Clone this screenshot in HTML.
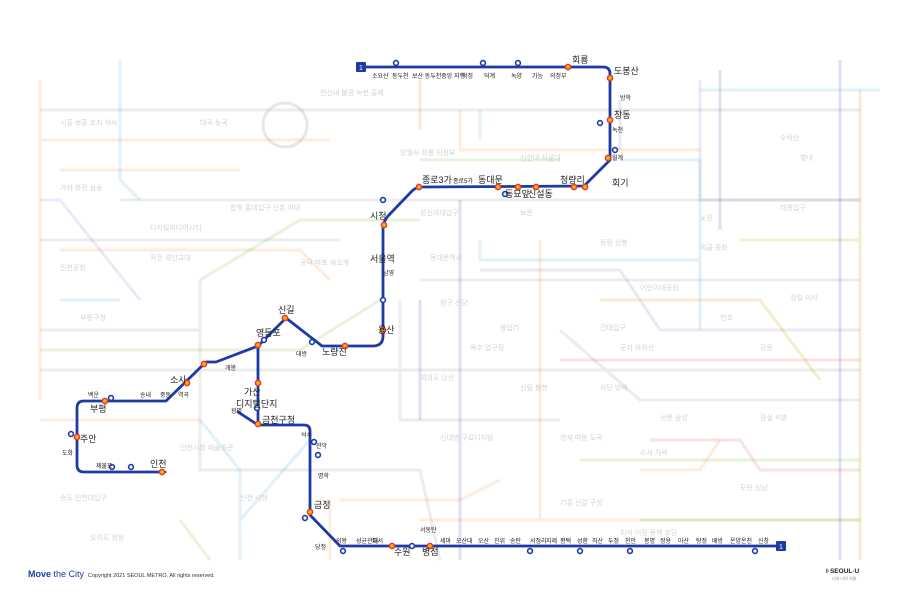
<!DOCTYPE html>
<html><head><meta charset="utf-8"><style>
html,body{margin:0;padding:0;background:#fff;}
svg{display:block;font-family:"Liberation Sans","Noto Sans CJK KR",sans-serif;}
.bg{fill:none;stroke-width:3;opacity:.2;stroke-linejoin:round}
.ft{fill:#bbb;font-size:7px;opacity:.65}
.m{fill:none;stroke:#1d3aa5;stroke-width:2.8;stroke-linejoin:round;stroke-linecap:round}
.st{font-size:6px;fill:#222}
.big{font-size:9px;fill:#222}
.tr{fill:#fff;stroke:#1d3aa5;stroke-width:1.6}
.xf{fill:#f4b400;stroke:#e53935;stroke-width:1.5}
</style></head><body>
<svg width="918" height="605" viewBox="0 0 918 605">
<rect width="918" height="605" fill="#fff"/>
<g>
<path class="bg" stroke="#f5a25d" d="M40 80 L40 400 M40 140 L330 140 M460 110 L460 150 L700 150 M540 240 L540 520 M340 500 L460 500 L500 480 M330 500 L330 560 M420 520 L860 520 M640 470 L700 470 L720 440 M60 250 L300 250 L330 280 M40 420 L200 420 M60 170 L240 170"/>
<path class="bg" stroke="#66b8e8" d="M480 240 L480 260 L700 260 L700 200 M120 60 L120 180 L140 200 M60 300 L120 300 M700 90 L880 90 M620 160 L700 160 L700 330 M310 440 L240 520 M200 420 L240 470 L240 560 M480 110 L480 140"/>
<path class="bg" stroke="#8bc34a" d="M200 280 L300 220 L420 220 M640 520 L860 520 M580 460 L860 460 M40 350 L300 350 L380 300 M180 520 L210 560 M420 160 L560 160"/>
<path class="bg" stroke="#a48ad6" d="M40 200 L60 200 L140 300 M480 270 L620 270 L660 330 L860 330 M620 150 L620 100 M700 80 L700 200 L860 200"/>
<path class="bg" stroke="#9e9e9e" d="M40 110 L860 110 M40 370 L860 370 M120 200 L860 200 M200 280 L200 470 L420 470 L440 560 M400 300 L400 420 L560 420 M560 330 L640 400 L860 400 M40 240 L340 240 M420 280 L860 280 M40 330 L200 330"/>
<path class="bg" stroke="#e57373" d="M650 440 L740 440 L760 470 L860 470 M700 360 L860 360 M560 360 L700 360"/>
<path class="bg" stroke="#d4a017" d="M420 80 L420 130 M740 240 L860 240 M860 90 L860 560 M600 300 L760 300 L820 380"/>
<path class="bg" stroke="#5c6bc0" d="M720 70 L720 230 M840 60 L840 560 M420 300 L420 420 M460 200 L460 560"/>
<circle cx="285" cy="125" r="22" fill="none" stroke="#9e9e9e" stroke-width="3" opacity=".25"/>
</g>
<g class="ft">
<text x="60" y="125">시흥 보훈 호지 식사</text><text x="200" y="125">대곡 능곡</text><text x="320" y="95">연신내 불광 녹번 홍제</text>
<text x="400" y="155">망월사 회룡 의정부</text><text x="520" y="160">신한대 서울대</text>
<text x="60" y="190">가좌 화정 삼송</text><text x="150" y="230">디지털미디어시티</text><text x="230" y="210">합정 홍대입구 신촌 이대</text>
<text x="420" y="215">성신여대입구</text><text x="520" y="215">보문</text><text x="600" y="245">중랑 상봉</text>
<text x="700" y="220">노원</text><text x="780" y="140">수락산</text><text x="780" y="210">태릉입구</text>
<text x="60" y="270">인천공항</text><text x="80" y="320">부평구청</text><text x="150" y="260">작전 경인교대</text>
<text x="430" y="260">동대문역사</text><text x="440" y="305">청구 신당</text><text x="500" y="330">왕십리</text>
<text x="600" y="330">건대입구</text><text x="620" y="350">군자 아차산</text><text x="720" y="320">천호</text><text x="760" y="350">강동</text>
<text x="420" y="380">여의도 당산</text><text x="520" y="390">신림 봉천</text><text x="600" y="390">사당 방배</text>
<text x="660" y="420">선릉 삼성</text><text x="760" y="420">잠실 석촌</text><text x="640" y="455">수서 가락</text>
<text x="180" y="450">인천시청 예술회관</text><text x="240" y="500">신천 시청</text><text x="560" y="505">기흥 신갈 구성</text>
<text x="620" y="535">지석 어정 동백 초당</text><text x="740" y="490">모란 성남</text><text x="790" y="300">강일 미사</text>
<text x="800" y="160">별내</text><text x="60" y="500">송도 인천대입구</text><text x="90" y="540">오이도 정왕</text>
<text x="440" y="440">신대방 구로디지털</text><text x="560" y="440">양재 매봉 도곡</text><text x="700" y="250">먹골 중화</text>
<text x="300" y="265">공덕 마포 애오개</text><text x="470" y="350">옥수 압구정</text><text x="640" y="290">어린이대공원</text>
</g>
<path class="m" d="M360 67 L603 67 Q610 67 610 74 L610 160 L584 186 L422 187 Q416 187 412 191 L388 216 Q383 222 383 228 L383 336 Q383 346 373 346 L322 346 L286 318 L258 346 L216 362 L206 362 L166 401 L84 401 Q77 401 77 408 L77 465 Q77 472 84 472 L165 472"/>
<path class="m" d="M258 346 L258 425 L304 425 Q310 425 310 431 L310 515 L340 546 L780 546"/>
<path class="m" d="M258 425 L238 412"/>
<rect x="356" y="62" width="10" height="10" rx="1" fill="#1d3aa5"/><text x="361" y="70" fill="#fff" font-size="7" text-anchor="middle">1</text>
<rect x="776" y="541" width="10" height="10" rx="1" fill="#1d3aa5"/><text x="781" y="549" fill="#fff" font-size="7" text-anchor="middle">1</text>
<g>
<circle class="xf" cx="568" cy="67" r="2.6"/><circle class="xf" cx="610" cy="78" r="2.6"/><circle class="xf" cx="610" cy="120" r="2.6"/>
<circle class="xf" cx="608" cy="158" r="2.6"/><circle class="xf" cx="585" cy="187" r="2.6"/><circle class="xf" cx="574" cy="187" r="2.6"/>
<circle class="xf" cx="536" cy="187" r="2.6"/><circle class="xf" cx="518" cy="187" r="2.6"/><circle class="xf" cx="498" cy="187" r="2.6"/>
<circle class="xf" cx="419" cy="187" r="2.6"/><circle class="xf" cx="384" cy="225" r="2.6"/><circle class="xf" cx="383" cy="330" r="2.6"/>
<circle class="xf" cx="345" cy="346" r="2.6"/><circle class="xf" cx="285" cy="318" r="2.6"/><circle class="xf" cx="258" cy="345" r="2.6"/>
<circle class="xf" cx="204" cy="364" r="2.6"/><circle class="xf" cx="187" cy="383" r="2.6"/><circle class="xf" cx="105" cy="401" r="2.6"/>
<circle class="xf" cx="77" cy="437" r="2.6"/><circle class="xf" cx="162" cy="472" r="2.6"/><circle class="xf" cx="258" cy="383" r="2.6"/>
<circle class="xf" cx="258" cy="424" r="2.6"/><circle class="xf" cx="310" cy="512" r="2.6"/><circle class="xf" cx="392" cy="546" r="2.6"/><circle class="xf" cx="430" cy="546" r="2.6"/>
</g>
<g>
<circle class="tr" cx="396" cy="63" r="2.4"/><circle class="tr" cx="483" cy="63" r="2.4"/><circle class="tr" cx="518" cy="63" r="2.4"/>
<circle class="tr" cx="600" cy="123" r="2.4"/><circle class="tr" cx="615" cy="150" r="2.4"/><circle class="tr" cx="505" cy="194" r="2.4"/>
<circle class="tr" cx="383" cy="200" r="2.4"/><circle class="tr" cx="383" cy="300" r="2.4"/><circle class="tr" cx="312" cy="342" r="2.4"/>
<circle class="tr" cx="264" cy="340" r="2.4"/><circle class="tr" cx="257" cy="408" r="2.4"/><circle class="tr" cx="314" cy="442" r="2.4"/>
<circle class="tr" cx="318" cy="455" r="2.4"/><circle class="tr" cx="305" cy="518" r="2.4"/><circle class="tr" cx="343" cy="551" r="2.4"/>
<circle class="tr" cx="412" cy="546" r="2.4"/><circle class="tr" cx="530" cy="551" r="2.4"/><circle class="tr" cx="580" cy="551" r="2.4"/>
<circle class="tr" cx="630" cy="551" r="2.4"/><circle class="tr" cx="755" cy="551" r="2.4"/><circle class="tr" cx="112" cy="467" r="2.4"/>
<circle class="tr" cx="131" cy="467" r="2.4"/><circle class="tr" cx="71" cy="434" r="2.4"/><circle class="tr" cx="111" cy="398" r="2.4"/>
</g>
<g class="st">
<text x="372" y="78">소요산</text><text x="392" y="78">동두천</text><text x="412" y="78">보산 동두천중앙 지행</text>
<text x="462" y="78">덕정</text><text x="484" y="78">덕계</text><text x="511" y="78">녹양</text><text x="532" y="78">가능</text><text x="550" y="78">의정부</text>
<text x="620" y="100">방학</text><text x="612" y="132">녹천</text><text x="612" y="160">월계</text>
<text x="453" y="183">종로5가</text><text x="383" y="275">남영</text><text x="296" y="356">대방</text>
<text x="140" y="397">송내</text><text x="160" y="397">중동</text><text x="178" y="397">역곡</text><text x="88" y="397">백운</text>
<text x="62" y="455">도화</text><text x="96" y="468">제물포</text><text x="231" y="413">광명</text><text x="225" y="370">개봉</text>
<text x="301" y="437">석수</text><text x="316" y="448">관악</text><text x="318" y="478">명학</text><text x="315" y="549">당정</text>
<text x="336" y="543">의왕</text><text x="356" y="543">성균관대</text><text x="372" y="543">화서</text><text x="440" y="543">세마</text><text x="456" y="543">오산대</text><text x="478" y="543">오산</text>
<text x="494" y="543">진위</text><text x="510" y="543">송탄</text><text x="530" y="543">서정리</text><text x="546" y="543">지제</text><text x="560" y="543">평택</text><text x="577" y="543">성환</text>
<text x="592" y="543">직산</text><text x="608" y="543">두정</text><text x="625" y="543">천안</text><text x="644" y="543">봉명</text><text x="660" y="543">쌍용</text><text x="678" y="543">아산</text>
<text x="696" y="543">탕정</text><text x="712" y="543">배방</text><text x="730" y="543">온양온천</text><text x="758" y="543">신창</text><text x="420" y="532">서동탄</text>
</g>
<g class="big">
<text x="572" y="63">회룡</text><text x="614" y="74">도봉산</text><text x="614" y="118">창동</text><text x="612" y="186">회기</text>
<text x="478" y="183">동대문</text><text x="505" y="197">동묘앞</text><text x="528" y="197">신설동</text><text x="560" y="183">청량리</text>
<text x="422" y="183">종로3가</text><text x="370" y="219">시청</text><text x="370" y="262">서울역</text><text x="378" y="333">용산</text>
<text x="322" y="355">노량진</text><text x="278" y="313">신길</text><text x="256" y="336">영등포</text><text x="170" y="383">소사</text>
<text x="90" y="412">부평</text><text x="80" y="442">주안</text><text x="150" y="467">인천</text><text x="244" y="395">가산</text>
<text x="236" y="407">디지털단지</text><text x="262" y="423">금천구청</text><text x="314" y="508">금정</text><text x="394" y="555">수원</text><text x="422" y="555">병점</text>
</g>
<text x="28" y="577" font-size="9" font-weight="bold" fill="#1d3aa5">Move <tspan font-weight="normal">the City</tspan></text>
<text x="88" y="577" font-size="5.5" fill="#333">Copyright 2021 SEOUL METRO. All rights reserved.</text>
<text x="826" y="573" font-size="6.5" font-weight="bold" fill="#222">I·SEOUL·U</text>
<text x="832" y="580" font-size="4" fill="#888">너와 나의 서울</text>
</svg>
</body></html>
